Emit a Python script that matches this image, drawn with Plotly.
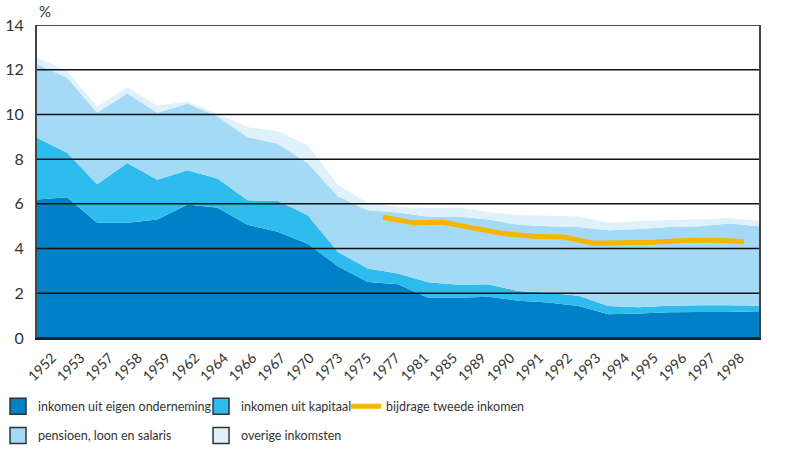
import plotly.graph_objects as go

years = ["1952", "1953", "1957", "1958", "1959", "1962", "1964", "1966", "1967", "1970",
         "1973", "1975", "1977", "1981", "1985", "1989", "1990", "1991", "1992", "1993",
         "1994", "1995", "1996", "1997", "1998"]

eigen_onderneming = [6.20, 6.30, 5.15, 5.15, 5.30, 5.97, 5.83, 5.07, 4.75, 4.22,
                     3.21, 2.50, 2.40, 1.80, 1.80, 1.84, 1.67, 1.59, 1.43, 1.06,
                     1.10, 1.15, 1.16, 1.16, 1.20]
kapitaal = [2.76, 1.99, 1.73, 2.68, 1.78, 1.53, 1.30, 1.09, 1.39, 1.27,
            0.64, 0.61, 0.48, 0.69, 0.58, 0.56, 0.43, 0.43, 0.46, 0.37,
            0.28, 0.29, 0.30, 0.30, 0.24]
pensioen_loon = [3.30, 3.35, 3.21, 3.11, 3.00, 2.98, 2.78, 2.83, 2.55, 2.34,
                 2.49, 2.60, 2.73, 2.93, 3.06, 2.90, 2.97, 2.98, 3.07, 3.39,
                 3.50, 3.52, 3.54, 3.66, 3.56]
overige = [0.30, 0.29, 0.27, 0.28, 0.31, 0.10, 0.12, 0.44, 0.56, 0.79,
           0.52, 0.34, 0.25, 0.38, 0.39, 0.34, 0.42, 0.47, 0.48, 0.34,
           0.34, 0.32, 0.30, 0.25, 0.24]

tweede_years = years[12:]
tweede_inkomen = [5.40, 5.16, 5.18, 4.95, 4.67, 4.55, 4.52, 4.24, 4.24, 4.28, 4.36, 4.38, 4.31]

y_ticks = [0, 2, 4, 6, 8, 10, 12, 14]

names = ["inkomen uit eigen onderneming", "inkomen uit kapitaal",
         "pensioen, loon en salaris", "overige inkomsten"]
colors = ["#0080C6", "#2EBCEE", "#A4DAF5", "#DFF1FB"]
series = [eigen_onderneming, kapitaal, pensioen_loon, overige]
orange = "#F7B500"
FONT = "Lato, sans-serif"

fig = go.Figure()
for nm, col, vals in zip(names, colors, series):
    fig.add_trace(go.Scatter(x=years, y=vals, name=nm, stackgroup="one",
                             mode="none", fillcolor=col, line=dict(width=0),
                             showlegend=False, hoverinfo="skip"))

fig.add_trace(go.Scatter(x=tweede_years, y=tweede_inkomen, name="bijdrage tweede inkomen",
                         mode="lines", line=dict(color=orange, width=5),
                         xaxis="x2", showlegend=False))

# category axis that carries the year labels
fig.add_trace(go.Scatter(x=years, y=[None] * len(years), mode="none", xaxis="x3",
                         showlegend=False, hoverinfo="skip"))

# legend entries
legend_map = {0: "legend", 2: "legend", 1: "legend2", 3: "legend2"}
for i in [0, 2, 1, 3]:
    fig.add_trace(go.Scatter(x=[None], y=[None], mode="markers", name=names[i],
                             marker=dict(symbol="square", size=16, color=colors[i],
                                         line=dict(color="#333333", width=1.5)),
                             legend=legend_map[i], legendgroup=names[i]))
fig.add_trace(go.Scatter(x=[None], y=[None], mode="lines", name="bijdrage tweede inkomen",
                         line=dict(color=orange, width=5), legend="legend3"))

for v in y_ticks:
    fig.add_hline(y=v, line=dict(color="#111111", width=1.5), layer="above")

leg_common = dict(orientation="v", yanchor="top", xanchor="left",
                  font=dict(family=FONT, size=12.5, color="#333333"),
                  bgcolor="rgba(0,0,0,0)", tracegroupgap=10, itemclick=False)

fig.update_layout(
    width=786, height=449,
    margin=dict(l=37, r=27, t=25, b=111, autoexpand=False),
    paper_bgcolor="white", plot_bgcolor="white",
    font=dict(family=FONT, size=14, color="#333333"),
    xaxis=dict(type="category", categoryorder="array", categoryarray=years,
               range=[0, len(years) - 1], showticklabels=False, showgrid=False,
               showline=True, linecolor="#0b2238", linewidth=2, ticks="",
               automargin=False),
    xaxis2=dict(type="category", categoryorder="array", categoryarray=years,
                overlaying="x", range=[0.5, len(years) - 0.5], visible=False),
    xaxis3=dict(type="category", categoryorder="array", categoryarray=years,
                overlaying="x", side="bottom", anchor="y",
                range=[-0.523, len(years) - 1 + 0.663], tickangle=-45,
                showgrid=False, showline=False, ticks="", automargin=False,
                ticklabelstandoff=8,
                tickfont=dict(family=FONT, size=14, color="#333333")),
    yaxis=dict(range=[0, 14], tickvals=y_ticks, showgrid=False, automargin=False,
               showline=True, linecolor="#444444", linewidth=2, mirror=True,
               ticks="", ticklabelstandoff=8,
               tickfont=dict(family=FONT, size=16, color="#333333")),
    legend=dict(x=-0.054, y=-0.171, **leg_common),
    legend2=dict(x=0.2272, y=-0.171, **leg_common),
    legend3=dict(x=0.428, y=-0.171, **leg_common),
    annotations=[dict(text="%", xref="paper", yref="paper", x=0, y=1.01,
                      xanchor="left", yanchor="bottom", showarrow=False,
                      font=dict(family=FONT, size=15, color="#333333"))],
)

fig.write_html("out.html", config={"displayModeBar": False},
               post_script="document.body.style.margin='0px';")
